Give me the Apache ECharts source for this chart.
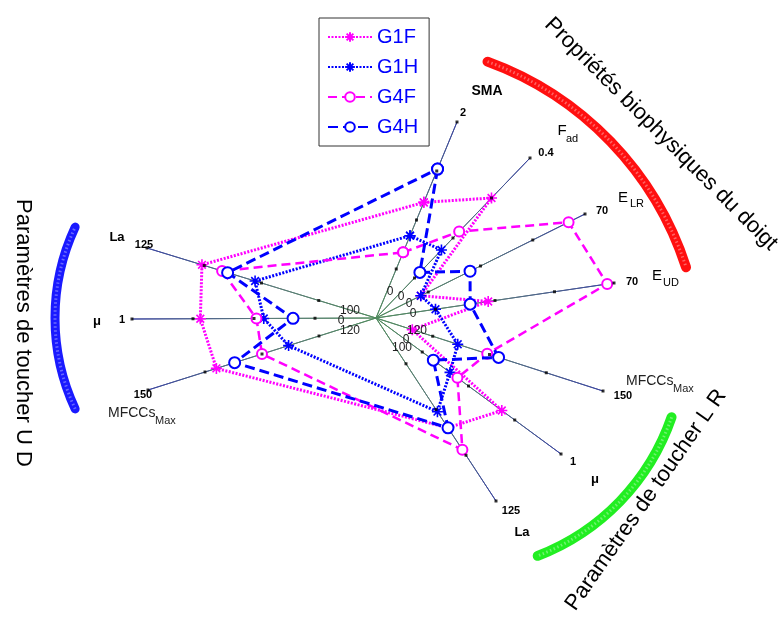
<!DOCTYPE html>
<html><head><meta charset="utf-8">
<script src="https://cdn.jsdelivr.net/npm/echarts@6/dist/echarts.min.js"></script>
<style>html,body{margin:0;padding:0;background:#fff}#c{width:781px;height:621px}</style>
</head><body><div id="c"></div>
<script>
// ---------------- DATA ----------------
const axisNames = ['SMA', 'F_ad', 'E_LR', 'E_UD', 'MFCCs_Max', 'μ', 'La', 'MFCCs_Max', 'μ', 'La'];
const axisMin = [0, 0, 0, 0, 120, 0, 100, 120, 0, 100];
const axisMax = [2, 0.4, 70, 70, 150, 1, 125, 150, 1, 125];
const seriesNames = ['G1F', 'G1H', 'G4F', 'G4H'];
const G1F = [1.18, 0.30, 15, 33, 124.8, 0.68, 115, 141, 0.72, 119];
const G1H = [0.84, 0.17, 15, 17.5, 130.8, 0.40, 112.8, 131.5, 0.46, 113.2];
const G4F = [0.67, 0.216, 64.5, 68, 134.7, 0.44, 118, 135, 0.49, 116.8];
const G4H = [1.52, 0.114, 31.5, 27.7, 136.2, 0.31, 115, 138.6, 0.34, 116.2];
const tickFractions = [0.25, 0.5, 0.75, 1];
const groupTitles = ['Propriétés biophysiques du doigt', 'Paramètres de toucher L R', 'Paramètres de toucher U D'];

// ---------------- LAYOUT ----------------
// end of each radial axis (chart units, centre = 0,0)
const axisEnd = [[0.324,0.784],[0.616,0.640],[0.836,0.416],[0.952,0.140],[0.908,-0.292],
                 [0.740,-0.544],[0.480,-0.732],[-0.912,-0.288],[-0.976,-0.004],[-0.916,0.280]];
const minLabelOff = [[14,-26],[25,-21],[33,-14],[37,-4],[41,13],[30,22],[26,30],[-26,13],[-35,3],[-26,-7]];
const maxLabelOff = [[6,-9],[16,-5],[17,-3],[18,-1],[20,5],[12,8],[15,10],[-5,5],[-10,1],[-3,-3]];
const FONT = '"Liberation Sans", Arial, Helvetica, sans-serif';

const chart = echarts.init(document.getElementById('c'), null, {renderer: 'canvas'});

function toPoint(v, i) {
  const f = (v - axisMin[i]) / (axisMax[i] - axisMin[i]);
  return [f * axisEnd[i][0], f * axisEnd[i][1]];
}

const ASTER = 'path://M5,0L5,10M0,5L10,5M1.5,1.5L8.5,8.5M1.5,8.5L8.5,1.5';
const styles = [
  {color: '#ff00ff', type: [2, 1.5], width: 3, symbol: ASTER, size: 11, bw: 1.6},
  {color: '#0000ff', type: [2, 1.5], width: 3, symbol: ASTER, size: 11, bw: 1.6},
  {color: '#ff00ff', type: [9, 5], width: 2.5, symbol: 'emptyCircle', size: 10, bw: 2},
  {color: '#0000ff', type: [10, 5], width: 3, symbol: 'emptyCircle', size: 11, bw: 2.5}
];
const allValues = [G1F, G1H, G4F, G4H];

const series = [];
axisEnd.forEach(function (e) {
  const x0 = e[0] >= 0 ? 0 : 1, y0 = e[1] <= 0 ? 0 : 1;
  series.push({
    type: 'line', data: [[0, 0], e], symbol: 'none', silent: true, z: 1, animation: false,
    lineStyle: {width: 1, color: new echarts.graphic.LinearGradient(x0, y0, 1 - x0, 1 - y0,
      [{offset: 0, color: '#4f8a5c'}, {offset: 0.45, color: '#5a7a78'}, {offset: 1, color: '#3a44a0'}])}
  });
});
const ticks = [];
axisEnd.forEach(function (e) { tickFractions.forEach(function (f) { ticks.push([f * e[0], f * e[1]]); }); });
series.push({type: 'scatter', data: ticks, symbol: 'rect', symbolSize: 3, itemStyle: {color: '#000'}, z: 5, silent: true, animation: false});

allValues.forEach(function (vals, k) {
  const pts = vals.map(toPoint); pts.push(pts[0]);
  const s = styles[k];
  series.push({
    name: seriesNames[k], type: 'line', data: pts, z: 3 + k * 0.1, animation: false,
    symbol: s.symbol, symbolSize: s.size, showAllSymbol: true,
    lineStyle: {color: s.color, width: s.width, type: s.type},
    itemStyle: {color: s.color, borderColor: s.color, borderWidth: s.bw}
  });
});

chart.setOption({
  backgroundColor: '#fff',
  animation: false,
  grid: {left: 0, right: 0, top: 0, bottom: 0, containLabel: false},
  xAxis: {type: 'value', min: -1.504, max: 1.62, show: false},
  yAxis: {type: 'value', min: -1.212, max: 1.272, show: false},
  legend: {
    orient: 'vertical', left: 319, top: 18, data: seriesNames,
    backgroundColor: '#fff', borderColor: '#333', borderWidth: 1, borderRadius: 0,
    padding: [9, 11, 9, 8], itemWidth: 44, itemHeight: 12, itemGap: 10,
    textStyle: {fontSize: 20, color: '#0000ff', fontFamily: FONT}
  },
  series: series
});

// ---------------- TEXTS & ARCS ----------------
const C = chart.convertToPixel({gridIndex: 0}, [0, 0]);
const g = [];
function txt(t, x, y, size, opt) {
  opt = opt || {};
  g.push({type: 'text', x: x, y: y, rotation: opt.rot || 0, z: 100,
    style: {text: t, fontSize: size, fontFamily: FONT, fontWeight: opt.bold ? 'bold' : 'normal',
      fill: opt.fill || '#000', align: opt.align || 'center', verticalAlign: 'middle'}});
}
axisEnd.forEach(function (e, i) {
  const p = chart.convertToPixel({gridIndex: 0}, e);
  txt(String(axisMax[i]), p[0] + maxLabelOff[i][0], p[1] + maxLabelOff[i][1], 11, {bold: true});
  txt(String(axisMin[i]), C[0] + minLabelOff[i][0], C[1] + minLabelOff[i][1], 12, {fill: '#222'});
});
// axis names
txt(axisNames[0], 487, 91, 14, {bold: true});
txt('F', 562, 131, 15); txt('ad', 572, 139, 11);
txt('E', 623, 198, 15); txt('LR', 637, 204, 11);
txt('E', 657, 276, 15); txt('UD', 671, 283, 11);
txt('MFCCs', 626, 381, 14, {align: 'left', fill: '#222'}); txt('Max', 673, 389, 11, {align: 'left', fill: '#222'});
txt(axisNames[5], 595, 479, 13, {bold: true});
txt(axisNames[6], 522, 532, 13, {bold: true});
txt('MFCCs', 108, 413, 14, {align: 'left', fill: '#222'}); txt('Max', 155, 421, 11, {align: 'left', fill: '#222'});
txt(axisNames[8], 97, 321, 13, {bold: true});
txt(axisNames[9], 117, 237, 13, {bold: true});

function arc(cx, cy, r, a0, a1, color, w) {
  const d = Math.PI / 180;
  g.push({type: 'arc', z: 50, shape: {cx: cx, cy: cy, r: r, startAngle: a0 * d, endAngle: a1 * d, clockwise: true},
    style: {stroke: color, lineWidth: w, fill: null, lineCap: 'round'}});
  g.push({type: 'arc', z: 51, shape: {cx: cx, cy: cy, r: r, startAngle: a0 * d, endAngle: a1 * d, clockwise: true},
    style: {stroke: 'rgba(255,255,255,0.35)', lineWidth: 3, fill: null, lineDash: [1.5, 2.5]}});
}
arc(376, 368, 326, -70, -18, '#ff1010', 10);
arc(456, 343, 228, 19, 69, '#22ee22', 10);
arc(270, 318, 215, 155, 205, '#1a1aff', 9);

txt(groupTitles[0], 661, 134, 22, {rot: -45 * Math.PI / 180});
txt(groupTitles[1], 646, 500, 22, {rot: 55 * Math.PI / 180});
txt(groupTitles[2], 23, 333, 22, {rot: -Math.PI / 2});

chart.setOption({graphic: g});
</script></body></html>
